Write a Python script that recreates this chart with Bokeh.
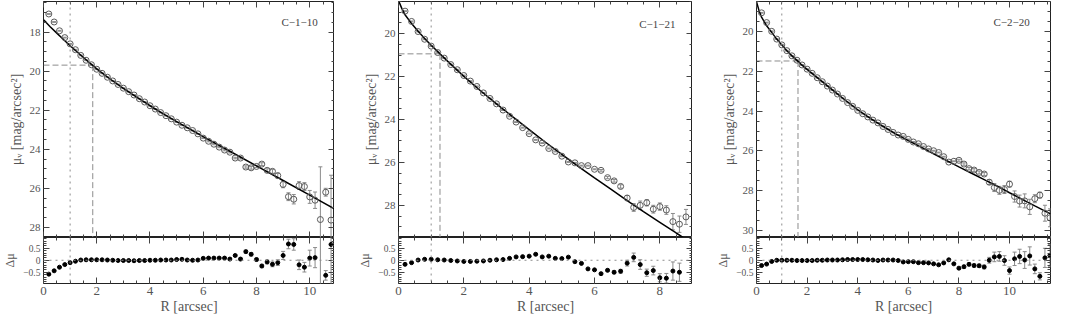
import numpy as np
from bokeh.plotting import figure
from bokeh.models import Range1d, LinearAxis, FixedTicker, Span, Label, CustomLabelingPolicy
from bokeh.layouts import row, column
from bokeh.embed import file_html
from bokeh.resources import INLINE

# ---------------- data ----------------
galaxy_names = ["C\u22121\u221210", "C\u22121\u221221", "C\u22122\u221220"]

# C-1-10
r1 = [0.2, 0.4, 0.6, 0.8, 1.0, 1.2, 1.4, 1.6, 1.8, 2.0, 2.2, 2.4, 2.6, 2.8, 3.0, 3.2, 3.4, 3.6,
      3.8, 4.0, 4.2, 4.4, 4.6, 4.8, 5.0, 5.2, 5.4, 5.6, 5.8, 6.0, 6.2, 6.4, 6.6, 6.8, 7.0, 7.2,
      7.4, 7.6, 7.8, 8.0, 8.2, 8.4, 8.6, 8.8, 9.0, 9.2, 9.4, 9.6, 9.8, 10.0, 10.2, 10.4, 10.6, 10.8]
mu1 = [17.07, 17.48, 17.93, 18.28, 18.60, 18.90, 19.19, 19.44, 19.67, 19.90, 20.11, 20.31, 20.50,
       20.68, 20.87, 21.05, 21.22, 21.41, 21.58, 21.77, 21.94, 22.12, 22.28, 22.44, 22.61, 22.77,
       22.90, 23.04, 23.21, 23.43, 23.59, 23.74, 23.89, 24.04, 24.15, 24.45, 24.45, 24.91, 24.95,
       24.88, 24.76, 25.08, 25.13, 25.35, 25.80, 26.43, 26.56, 25.86, 25.91, 26.44, 26.61, 27.60,
       26.20, 27.63]
err1 = [0.02] * 30 + [0.03, 0.03, 0.03, 0.04, 0.04, 0.04, 0.05, 0.06, 0.07, 0.06, 0.07, 0.08,
                      0.10, 0.12, 0.17, 0.20, 0.24, 0.20, 0.20, 0.33, 0.42, 2.70, 0.20, 2.30]
res1 = [-0.58, -0.44, -0.29, -0.18, -0.10, -0.04, 0.01, 0.02, 0.02, 0.02, 0.02, 0.01, 0.00, -0.01,
        -0.01, -0.01, -0.02, -0.01, -0.01, 0.00, 0.00, 0.01, 0.01, 0.01, 0.03, 0.04, 0.01, 0.00,
        0.01, 0.08, 0.09, 0.09, 0.09, 0.09, 0.05, 0.20, 0.05, 0.36, 0.25, 0.03, -0.24, -0.07,
        -0.17, -0.10, 0.20, 0.68, 0.66, -0.19, -0.29, 0.09, 0.11, 1.20, -0.63, 0.66]
fit1_r = [0.0, 0.1, 0.25, 0.5, 0.75, 1.0, 1.5, 2.0, 2.5, 3.0, 3.5, 4.0, 4.5, 5.0, 6.0, 7.0, 8.0,
          9.0, 10.0, 10.93]
fit1_mu = [17.36, 17.50, 17.72, 18.05, 18.38, 18.70, 19.30, 19.88, 20.40, 20.88, 21.33, 21.77,
           22.19, 22.58, 23.35, 24.10, 24.85, 25.60, 26.35, 27.05]
re1, mue1 = 1.85, 19.69

# C-1-21
r2 = [0.2, 0.4, 0.6, 0.8, 1.0, 1.2, 1.4, 1.6, 1.8, 2.0, 2.2, 2.4, 2.6, 2.8, 3.0, 3.2, 3.4, 3.6,
      3.8, 4.0, 4.2, 4.4, 4.6, 4.8, 5.0, 5.2, 5.4, 5.6, 5.8, 6.0, 6.2, 6.4, 6.6, 6.8, 7.0, 7.2,
      7.4, 7.6, 7.8, 8.0, 8.2, 8.4, 8.6, 8.8]
mu2 = [18.95, 19.43, 19.90, 20.26, 20.58, 20.88, 21.14, 21.44, 21.68, 21.95, 22.21, 22.46, 22.76,
       23.02, 23.27, 23.56, 23.85, 24.12, 24.38, 24.66, 24.95, 25.10, 25.35, 25.49, 25.71, 25.98,
       26.02, 26.15, 26.15, 26.32, 26.37, 26.71, 26.86, 27.12, 27.66, 28.10, 28.00, 27.88, 28.18,
       28.06, 28.22, 28.76, 28.88, 28.54]
err2 = [0.02] * 30 + [0.04, 0.05, 0.06, 0.08, 0.12, 0.18, 0.20, 0.15, 0.18, 0.17, 0.20, 0.38,
                      0.38, 0.35]
res2 = [-0.17, -0.10, 0.01, 0.04, 0.04, 0.02, 0.01, -0.01, -0.03, -0.05, -0.05, -0.04, -0.03,
        0.00, 0.02, 0.03, 0.08, 0.14, 0.15, 0.17, 0.25, 0.14, 0.17, 0.08, 0.07, 0.13, -0.06,
        -0.13, -0.36, -0.40, -0.56, -0.42, -0.50, -0.46, -0.12, 0.12, -0.18, -0.52, -0.43,
        -0.73, -0.75, -0.45, -0.50]
fit2_r = [0.0, 0.1, 0.2, 0.4, 0.6, 0.8, 1.0, 1.5, 2.0, 2.5, 3.0, 3.5, 4.0, 4.5, 5.0, 5.5, 6.0,
          6.5, 7.0, 7.5, 8.0, 8.5, 9.0]
fit2_mu = [18.45, 18.82, 19.12, 19.53, 19.89, 20.22, 20.54, 21.28, 21.99, 22.65, 23.27, 23.88,
           24.47, 25.06, 25.63, 26.18, 26.72, 27.25, 27.78, 28.29, 28.79, 29.29, 29.78]
re2, mue2 = 1.27, 20.94

# C-2-20
r3 = [0.2, 0.4, 0.6, 0.8, 1.0, 1.2, 1.4, 1.6, 1.8, 2.0, 2.2, 2.4, 2.6, 2.8, 3.0, 3.2, 3.4, 3.6,
      3.8, 4.0, 4.2, 4.4, 4.6, 4.8, 5.0, 5.2, 5.4, 5.6, 5.8, 6.0, 6.2, 6.4, 6.6, 6.8, 7.0, 7.2,
      7.4, 7.6, 7.8, 8.0, 8.2, 8.4, 8.6, 8.8, 9.0, 9.2, 9.4, 9.6, 9.8, 10.0, 10.2, 10.4, 10.6,
      10.8, 11.0, 11.2, 11.4, 11.6]
mu3 = [19.06, 19.55, 19.99, 20.38, 20.67, 20.96, 21.22, 21.44, 21.68, 21.89, 22.10, 22.32, 22.52,
       22.74, 22.94, 23.14, 23.36, 23.57, 23.76, 23.96, 24.13, 24.29, 24.45, 24.59, 24.77, 24.92,
       25.07, 25.20, 25.27, 25.42, 25.55, 25.64, 25.78, 25.90, 25.99, 26.08, 26.29, 26.56, 26.52,
       26.47, 26.66, 26.89, 26.96, 27.08, 27.16, 27.57, 27.84, 27.98, 27.94, 27.67, 28.29, 28.52,
       28.51, 28.81, 28.40, 28.22, 29.13, 29.36]
err3 = [0.02] * 39 + [0.05, 0.06, 0.06, 0.07, 0.07, 0.08, 0.12, 0.20, 0.20, 0.20, 0.15, 0.28,
                      0.30, 0.35, 0.38, 0.20, 0.15, 0.40, 0.45]
res3 = [-0.22, -0.16, -0.05, 0.00, 0.00, 0.00, 0.00, -0.01, -0.01, -0.01, -0.01, 0.00, 0.00,
        0.01, 0.01, 0.01, 0.02, 0.03, 0.03, 0.03, 0.03, 0.02, 0.01, -0.01, 0.01, 0.01, 0.01,
        -0.01, -0.07, -0.06, -0.06, -0.10, -0.10, -0.11, -0.15, -0.19, -0.11, 0.02, -0.15, -0.33,
        -0.27, -0.17, -0.22, -0.23, -0.28, 0.00, 0.14, 0.16, -0.01, -0.43, 0.06, 0.16, 0.01,
        0.18, -0.36, -0.67, 0.10, 0.20]
fit3_r = [0.0, 0.1, 0.2, 0.4, 0.6, 0.8, 1.0, 1.2, 1.4, 1.6, 1.8, 2.0, 2.5, 3.0, 3.5, 4.0, 4.5,
          5.0, 5.5, 6.0, 6.5, 7.0, 7.5, 8.0, 8.5, 9.0, 9.5, 10.0, 10.5, 11.0, 11.62]
fit3_mu = [18.50, 18.95, 19.28, 19.71, 20.04, 20.38, 20.67, 20.96, 21.22, 21.45, 21.69, 21.90,
           22.42, 22.93, 23.44, 23.93, 24.36, 24.76, 25.14, 25.48, 25.81, 26.14, 26.47, 26.80,
           27.12, 27.44, 27.76, 28.10, 28.43, 28.76, 29.16]
re3, mue3 = 1.64, 21.48

seeing_r = [1.0, 1.0, 1.0]

# ---------------- style ----------------
FONT = "Liberation Serif"
TXT = "#555555"
TICK = "#444444"
PT = "#5a5a5a"
ERR = "#8a8a8a"
GUIDE = "#8c8c8c"

panels = [
    dict(name=galaxy_names[0], r=r1, mu=mu1, err=err1, res=res1, fr=fit1_r, fmu=fit1_mu,
         re=re1, mue=mue1, see=seeing_r[0], xmax=10.93, ybot=28.52, ytop=16.43,
         yticks=[16, 18, 20, 22, 24, 26, 28], lab=(10.3, 17.5), left=40, right=0),
    dict(name=galaxy_names[1], r=r2, mu=mu2, err=err2, res=res2, fr=fit2_r, fmu=fit2_mu,
         re=re2, mue=mue2, see=seeing_r[1], xmax=9.0, ybot=29.5, ytop=18.5,
         yticks=[18, 20, 22, 24, 26, 28], lab=(8.48, 19.55), left=64, right=0),
    dict(name=galaxy_names[2], r=r3, mu=mu3, err=err3, res=res3, fr=fit3_r, fmu=fit3_mu,
         re=re3, mue=mue3, see=seeing_r[2], xmax=11.62, ybot=30.35, ytop=18.49,
         yticks=[18, 20, 22, 24, 26, 28, 30], lab=(10.8, 19.52), left=64, right=3),
]

FRAME_W = 294
TOP_H = 236
RES_H = 46
BOT_B = 33
RES_LO, RES_HI = -0.97, 0.95


def make_axis(ticker, labelled, font_size="11px"):
    ax = LinearAxis(ticker=ticker)
    ax.major_tick_in = 6
    ax.major_tick_out = 0
    ax.minor_tick_in = 3
    ax.minor_tick_out = 0
    ax.axis_line_color = None
    ax.major_tick_line_color = TICK
    ax.minor_tick_line_color = TICK
    if labelled:
        ax.major_label_text_font = FONT
        ax.major_label_text_font_size = font_size
        ax.major_label_text_color = TXT
        ax.major_label_standoff = 3
        ax.axis_label_text_font = FONT
        ax.axis_label_text_font_style = "normal"
        ax.axis_label_text_color = TXT
        ax.axis_label_standoff = 3
    else:
        ax.major_label_text_font_size = "0px"
        ax.major_label_standoff = 0
        ax.major_label_policy = CustomLabelingPolicy(code="return []")
    return ax


def base_fig(w, h, xr, yr, left, right, top, bottom):
    p = figure(width=w, height=h, x_range=xr, y_range=yr, x_axis_type=None, y_axis_type=None,
               output_backend="svg", toolbar_location=None,
               min_border_left=left, min_border_right=right,
               min_border_top=top, min_border_bottom=bottom)
    p.outline_line_color = "#222222"
    p.outline_line_width = 1
    p.background_fill_color = "white"
    p.border_fill_color = "white"
    return p


cols = []
for pn in panels:
    xmaj = FixedTicker(ticks=list(range(0, 14, 2)),
                       minor_ticks=list(np.arange(0, 12.01, 0.5)))
    ymaj = FixedTicker(ticks=pn["yticks"], minor_ticks=list(np.arange(16, 31.01, 0.5)))
    rmaj = FixedTicker(ticks=[-0.5, 0, 0.5],
                       minor_ticks=list(np.round(np.arange(-0.9, 0.91, 0.1), 2)))

    xr = Range1d(0, pn["xmax"])
    w = pn["left"] + FRAME_W + pn["right"]

    # ---- profile panel ----
    t = base_fig(w, TOP_H + 1, xr, Range1d(pn["ybot"], pn["ytop"]), pn["left"], pn["right"], 1, 0)
    ly = make_axis(ymaj, True, "11px")
    ly.axis_label = "\u03bc\u1d65 [mag/arcsec\u00b2]"
    ly.axis_label_text_font_size = "14px"
    t.add_layout(ly, "left")
    t.add_layout(make_axis(ymaj, False), "right")
    t.add_layout(make_axis(xmaj, False), "above")
    t.add_layout(make_axis(xmaj, False), "below")

    t.add_layout(Span(location=pn["see"], dimension="height", line_color=GUIDE,
                      line_dash="dotted", line_width=1))
    t.segment(x0=[0], y0=[pn["mue"]], x1=[pn["re"]], y1=[pn["mue"]],
              line_color=GUIDE, line_dash="6 3", line_width=1)
    t.segment(x0=[pn["re"]], y0=[pn["mue"]], x1=[pn["re"]], y1=[pn["ybot"]],
              line_color=GUIDE, line_dash="6 3", line_width=1)

    mu = np.array(pn["mu"])
    er = np.array(pn["err"])
    t.segment(x0=pn["r"], y0=list(mu - er), x1=pn["r"], y1=list(mu + er),
              line_color=ERR, line_width=1)
    t.scatter(x=pn["r"] + pn["r"], y=list(mu - er) + list(mu + er), marker="dash",
              size=4, line_color=ERR, line_width=1)
    t.line(pn["fr"], pn["fmu"], line_color="black", line_width=1.5)
    t.scatter(x=pn["r"], y=pn["mu"], marker="circle", size=6, fill_color=None,
              line_color=PT, line_width=1)

    t.add_layout(Label(x=pn["lab"][0], y=pn["lab"][1], text=pn["name"], text_align="right",
                       text_baseline="middle", text_font=FONT, text_font_size="11px",
                       text_color="#444444"))

    # ---- residual panel ----
    b = base_fig(w, RES_H + BOT_B, xr, Range1d(RES_LO, RES_HI), pn["left"], pn["right"], 0, BOT_B)
    lr = make_axis(rmaj, True, "9.5px")
    lr.major_label_overrides = {0.5: "0.5", 0: "0", -0.5: "\u22120.5"}
    lr.axis_label = "\u0394\u03bc"
    lr.axis_label_text_font_size = "12px"
    b.add_layout(lr, "left")
    b.add_layout(make_axis(rmaj, False), "right")
    b.add_layout(make_axis(xmaj, False), "above")
    lx = make_axis(xmaj, True, "13px")
    lx.axis_label = "R [arcsec]"
    lx.axis_label_text_font_size = "14px"
    lx.axis_label_standoff = 1
    b.add_layout(lx, "below")

    b.add_layout(Span(location=pn["see"], dimension="height", line_color=GUIDE,
                      line_dash="dotted", line_width=1))
    b.add_layout(Span(location=0, dimension="width", line_color=GUIDE,
                      line_dash="dotted", line_width=1))

    nres = len(pn["res"])
    rr = pn["r"][:nres]
    rs = np.array(pn["res"])
    re_ = er[:nres]
    b.segment(x0=rr, y0=list(rs - re_), x1=rr, y1=list(rs + re_), line_color=ERR, line_width=1)
    b.scatter(x=rr + rr, y=list(rs - re_) + list(rs + re_), marker="dash", size=4,
              line_color=ERR, line_width=1)
    b.scatter(x=rr, y=pn["res"], marker="circle", size=4, fill_color="black", line_color="black")

    cols.append(column(t, b, spacing=0))

layout = row(*cols, spacing=0)
open("out.html", "w").write(file_html(layout, INLINE))
